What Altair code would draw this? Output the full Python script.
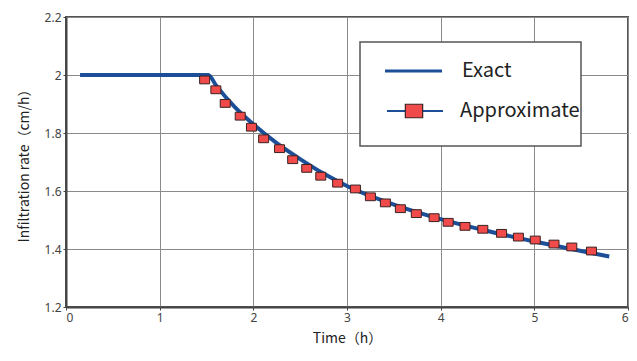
import altair as alt
import pandas as pd

# Exact solution
exact_t = [0.15, 1.52, 1.6, 1.8, 2.0, 2.25, 2.5, 2.75, 3.0, 3.5, 4.0, 4.5, 5.0, 5.5, 5.8]
exact_f = [2.0, 2.0, 1.965, 1.89, 1.83, 1.765, 1.71, 1.66, 1.617, 1.553, 1.503, 1.462, 1.426, 1.393, 1.374]

# Approximate solution markers
approx_t = [1.48, 1.60, 1.70, 1.86, 1.98, 2.11, 2.28, 2.42, 2.57, 2.72, 2.90, 3.09, 3.25,
            3.41, 3.57, 3.74, 3.93, 4.08, 4.26, 4.45, 4.65, 4.83, 5.01, 5.21, 5.40, 5.61]
approx_f = [1.983, 1.949, 1.902, 1.858, 1.820, 1.780, 1.746, 1.708, 1.678, 1.651, 1.627, 1.607, 1.580,
            1.559, 1.539, 1.522, 1.508, 1.492, 1.478, 1.468, 1.454, 1.441, 1.431, 1.417, 1.407, 1.393]

x_ticks = [0, 1, 2, 3, 4, 5, 6]
y_ticks = [1.2, 1.4, 1.6, 1.8, 2.0, 2.2]

legend_labels = ["Exact", "Approximate"]

BLUE = "#1d4f98"
RED = "#f04a4a"
MARK_EDGE = "#3a2222"
FONT = "Noto Sans CJK JP"
LABEL_FONT = "Noto Sans"
RECT_PATH = "M-1,-0.78H1V0.78H-1Z"

exact_df = pd.DataFrame({"t": exact_t, "f": exact_f})
approx_df = pd.DataFrame({"t": approx_t, "f": approx_f})

xscale = alt.Scale(domain=[0, 6], nice=False)
yscale = alt.Scale(domain=[1.2, 2.2], nice=False, zero=False)

xaxis = alt.Axis(values=x_ticks, title="Time（h）", format="~g", grid=True)
yaxis = alt.Axis(values=y_ticks, title="Infiltration rate（cm/h）", format="~g", grid=True)

exact_line = alt.Chart(exact_df).mark_line(
    color=BLUE, strokeWidth=4, interpolate="monotone", strokeCap="butt"
).encode(
    x=alt.X("t:Q", scale=xscale, axis=xaxis),
    y=alt.Y("f:Q", scale=yscale, axis=yaxis),
)

approx_pts = alt.Chart(approx_df).mark_point(
    shape=RECT_PATH, filled=True, fill=RED, stroke=MARK_EDGE, strokeWidth=1, size=100, opacity=1
).encode(
    x=alt.X("t:Q", scale=xscale),
    y=alt.Y("f:Q", scale=yscale),
)

one = alt.Data(values=[{}])

# legend (pixel positions inside the plot area)
LX = 294
LY = 25
leg_box = alt.Chart(one).mark_rect(fill="white", stroke="#555555", strokeWidth=1.5).encode(
    x=alt.value(LX), x2=alt.value(LX + 221), y=alt.value(LY), y2=alt.value(LY + 104)
)
leg_line1 = alt.Chart(one).mark_rule(color=BLUE, strokeWidth=3).encode(
    x=alt.value(LX + 25), x2=alt.value(LX + 82), y=alt.value(LY + 29)
)
leg_text1 = alt.Chart(one).mark_text(
    align="left", baseline="middle", fontSize=20, font=FONT, color="#222222"
).encode(x=alt.value(LX + 102), y=alt.value(LY + 29), text=alt.value(legend_labels[0]))
leg_line2 = alt.Chart(one).mark_rule(color=BLUE, strokeWidth=2).encode(
    x=alt.value(LX + 27), x2=alt.value(LX + 83), y=alt.value(LY + 69)
)
leg_mark2 = alt.Chart(one).mark_point(
    shape=RECT_PATH, filled=True, fill=RED, stroke=MARK_EDGE, strokeWidth=1.2, size=300, opacity=1
).encode(x=alt.value(LX + 54), y=alt.value(LY + 69))
leg_text2 = alt.Chart(one).mark_text(
    align="left", baseline="middle", fontSize=20, font=FONT, color="#222222"
).encode(x=alt.value(LX + 100), y=alt.value(LY + 69), text=alt.value(legend_labels[1]))

chart = alt.layer(
    exact_line, approx_pts, leg_box, leg_line1, leg_text1, leg_line2, leg_mark2, leg_text2
).properties(
    width=562, height=290,
    autosize=alt.AutoSizeParams(type="none"),
    padding={"left": 58, "top": 9, "right": 1, "bottom": 39},
).configure_view(
    stroke="#555555", strokeWidth=2
).configure_axis(
    gridColor="#8a8a8a", gridWidth=1, gridOpacity=1,
    domainColor="#444444", domainWidth=2,
    tickColor="#444444", tickSize=3,
    labelFont=LABEL_FONT, labelFontSize=12, labelColor="#444444", labelPadding=2,
    titleFont=FONT, titleFontSize=14, titleFontWeight="normal", titleColor="#222222",
).configure_axisX(titlePadding=8).configure_axisY(titlePadding=13)

chart.save("out.html", embed_options={"renderer": "svg", "actions": False})
